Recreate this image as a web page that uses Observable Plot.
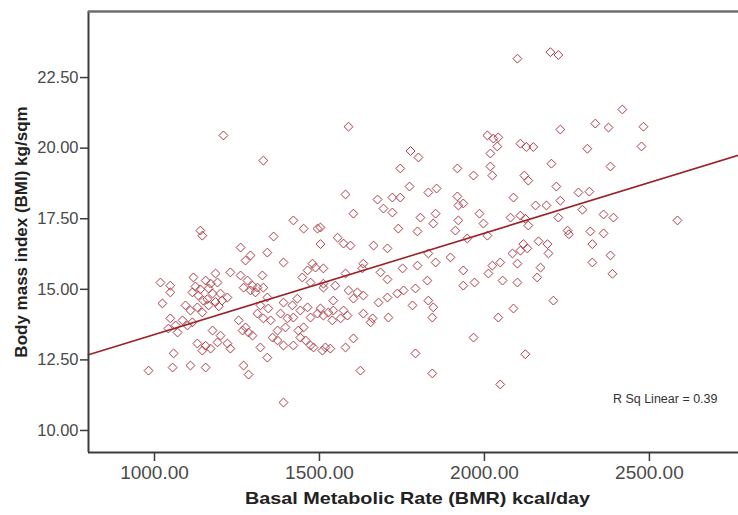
<!DOCTYPE html>
<html><head><meta charset="utf-8">
<script src="https://cdn.jsdelivr.net/npm/d3@7"></script>
<script src="https://cdn.jsdelivr.net/npm/@observablehq/plot@0.6"></script>
<style>html,body{margin:0;padding:0;background:#fff} svg{display:block}</style>
</head><body><div id="chart"></div>
<script>
// Basal Metabolic Rate (kcal/day) of each subject
const bmr = [
1209,1330,1139,1145,1361,1421,1452,1494,
2100,1588,2009,2027,2042,2039,2018,2109,2127,2148,1776,1800,1745,1918,1967,2018,2024,2121,2133,1579,1773,1676,1694,1721,1745,1721,1830,1855,1918,1936,1921,1985,1997,2088,1603,1806,1852,1845,1921,1912,1739,1797,2079,2109,2124,2133,1503,1555,
2200,2224,2418,2482,2476,2336,2376,2230,2312,2382,2203,2218,2285,2318,2230,2155,2188,2224,2297,2361,2391,2252,2256,2321,2361,2585,
2118,2130,2164,2191,2194,2327,2382,2327,2388,2170,2160,2209,2124,
1948,2009,1573,1594,1503,1664,1706,1897,1830,1852,1633,1630,1579,1512,1685,1752,1797,1706,1827,1936,1936,1970,2012,2024,2048,2055,2085,2109,2100,2100,1512,1548,1588,1615,1633,1603,1679,1706,1736,1755,1791,1542,1542,1573,1585,1527,1539,1564,1633,1661,1655,1709,1782,1830,1845,1842,1967,2042,2088,1603,1579,1518,1533,1791,1624,1842,2048,
1261,1291,1276,1342,1391,1479,1488,1464,1448,1473,1512,1018,1048,1048,1118,1155,1185,1191,1115,1133,1148,1164,1176,1200,1221,1024,1094,1109,1130,1145,1164,1048,1064,1085,1100,1115,1042,1070,
1261,1282,1270,1291,1306,1297,1312,1327,1330,1342,1321,1345,1312,1330,1352,1255,1276,1267,1285,1297,1176,1200,1191,1130,1155,1145,1170,1221,1230,1058,1055,1109,1155,982,1270,1285,1321,1342,1373,1391,1421,1391,
1382,1403,1397,1421,1436,1442,1452,1458,1473,1373,1358,1391,1418,1433,1442,1464,1473,1494,1503,1512,1482,1509,
1160,1185,1195,1205,1124,1139,1170,1230
];
// Body mass index (kg/sqm) of each subject, same order
const bmi = [
20.45,19.56,17.08,16.9,16.87,17.44,17.15,17.15,
23.17,20.76,20.45,20.34,20.38,20.06,19.81,20.16,20.04,20.04,19.9,19.67,19.28,19.28,19.03,19.35,19.03,19.03,18.85,18.36,18.64,18.18,17.86,18.25,18.25,17.72,18.43,18.57,18.29,18.04,17.97,17.68,17.33,18.25,17.68,17.54,17.68,17.33,17.44,17.08,17.15,17.05,17.54,17.61,17.5,17.26,17.19,16.83,
23.4,23.3,21.37,20.76,20.06,20.87,20.73,20.66,19.98,19.35,19.45,18.64,18.43,18.46,18.14,17.97,17.97,17.54,17.82,17.65,17.54,17.08,16.95,17.05,16.98,17.44,
16.6,16.45,16.7,16.6,16.27,16.6,16.2,15.95,15.55,15.77,15.42,14.6,12.7,
16.8,16.9,16.62,16.55,16.6,16.55,16.45,16.13,16.27,15.95,15.91,15.74,15.56,15.74,15.6,15.74,15.84,15.35,15.31,15.67,15.13,15.24,15.56,15.84,15.95,15.31,16.27,16.37,15.91,15.24,15.06,15.13,14.96,14.89,14.78,14.67,14.53,14.71,14.85,14.96,15.03,14.6,14.25,14.25,14.07,14.18,13.9,13.97,14.14,13.97,13.83,14.0,14.43,14.6,14.36,14.0,13.29,14.0,14.32,13.26,12.94,12.94,12.9,12.73,12.12,12.02,11.63,
16.48,16.2,16.02,16.3,15.95,15.91,15.77,15.67,15.42,15.24,15.2,15.24,15.13,14.89,15.42,15.31,15.56,15.24,14.89,14.78,14.6,15.03,14.85,14.85,14.71,14.5,14.43,14.25,14.36,14.18,14.43,13.97,13.72,13.9,13.72,13.83,13.61,13.47,
15.49,15.31,15.06,14.96,14.89,15.13,15.06,15.49,15.06,14.71,14.43,14.32,14.14,13.97,13.9,13.9,13.65,13.54,13.47,13.36,13.54,13.36,13.12,13.08,13.0,12.83,12.9,13.08,12.9,12.73,12.23,12.3,12.23,12.12,12.3,11.98,12.94,12.58,13.19,13.01,13.01,10.99,
14.14,13.97,13.65,14.0,13.54,13.29,13.65,13.19,13.01,13.54,13.29,14.53,14.43,14.67,14.25,14.36,14.0,14.14,14.32,14.07,12.94,12.83,
14.65,14.55,14.4,14.6,15.1,15.0,15.2,15.6
];
const xTicks = [1000, 1500, 2000, 2500];
const yTicks = [10, 12.5, 15, 17.5, 20, 22.5];
const xDomain = [800, 2770];
const yDomain = [9.22, 24.84];
const fitIntercept = 9.81;   // fit line
const fitSlope = 0.003589;
const rSqLabel = "R Sq Linear = 0.39";
const xTitle = "Basal Metabolic Rate (BMR) kcal/day";
const yTitle = "Body mass index (BMI) kg/sqm";

const points = bmr.map((x, i) => ({x, y: bmi[i]}));
const fitLine = xDomain.map(x => ({x, y: fitIntercept + fitSlope * x}));

const chart = Plot.plot({
  width: 738, height: 515,
  marginLeft: 88, marginRight: 0, marginTop: 11, marginBottom: 63,
  style: {fontFamily: "'Liberation Sans', Arial, sans-serif", background: "#fff", overflow: "visible"},
  x: {domain: xDomain},
  y: {domain: yDomain},
  marks: [
    Plot.dot(points, {x: "x", y: "y", symbol: "diamond2", r: 4, stroke: "#b03a44", strokeWidth: 1, fill: "none"}),
    Plot.line(fitLine, {x: "x", y: "y", stroke: "#9b2228", strokeWidth: 1.6}),
    Plot.ruleX([xDomain[0]], {stroke: "#3c3c3c", strokeWidth: 2}),
    Plot.ruleY([yDomain[0]], {stroke: "#3c3c3c", strokeWidth: 2}),
    Plot.ruleY([yDomain[1]], {stroke: "#6e6e6e", strokeWidth: 2.5}),
    Plot.axisX({ticks: xTicks, tickFormat: d => d.toFixed(2), tickSize: 9, tickPadding: 4, fontSize: 19, label: null, color: "#4a4a4a", stroke: "#3c3c3c", strokeWidth: 1.5}),
    Plot.axisY({ticks: yTicks, tickFormat: d => d.toFixed(2), tickSize: 8, tickPadding: 2, fontSize: 16.5, label: null, color: "#4a4a4a", stroke: "#3c3c3c", strokeWidth: 1.5}),
    Plot.text([xTitle], {frameAnchor: "bottom", dx: 4, dy: 51, fontSize: 17, fontWeight: "bold", fill: "#222"}),
    Plot.text([yTitle], {frameAnchor: "left", textAnchor: "middle", dx: -67, rotate: -90, fontSize: 17, fontWeight: "bold", fill: "#222"}),
    Plot.text([rSqLabel], {frameAnchor: "bottom-right", textAnchor: "end", dx: -21, dy: -50, fontSize: 12.5, fill: "#333"})
  ]
});
document.getElementById("chart").appendChild(chart);
d3.select(chart).selectAll("text").filter(function(){ return this.textContent === xTitle; })
  .attr("textLength", 345).attr("lengthAdjust", "spacingAndGlyphs");
</script>
</body></html>
